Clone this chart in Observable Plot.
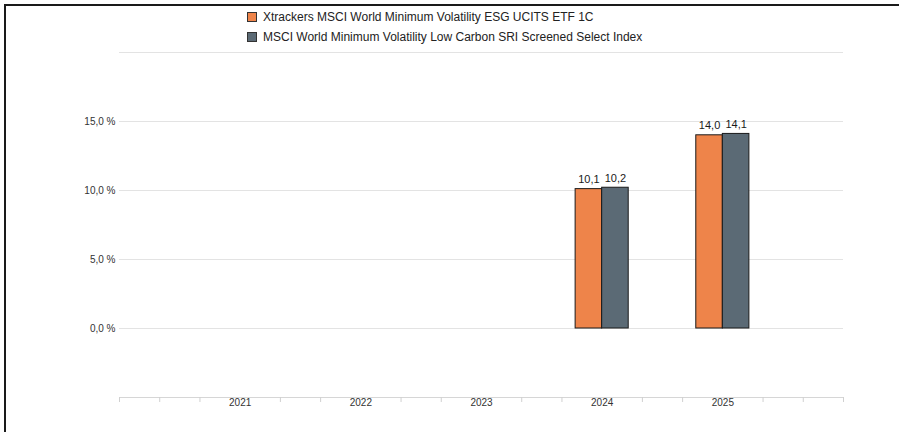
<!DOCTYPE html>
<html><head><meta charset="utf-8">
<script src="https://cdn.jsdelivr.net/npm/d3@7"></script>
<script src="https://cdn.jsdelivr.net/npm/@observablehq/plot@0.6"></script>
<style>
body{margin:0;background:#fff;font-family:"Liberation Sans",Arial,sans-serif;}
#wrap{position:relative;width:899px;height:432px;overflow:hidden;}
#frame{position:absolute;left:4px;top:4px;right:-10px;bottom:-10px;border-top:2px solid #1a1a1a;border-left:2px solid #1a1a1a;pointer-events:none;}
#legend{position:absolute;left:247px;top:7px;font-size:12px;color:#222;}
.item{display:flex;align-items:center;height:20px;}
.sw{width:8px;height:8px;border:1px solid #333;margin-right:6px;}
</style></head>
<body><div id="wrap"><div id="chart"></div><div id="legend"></div><div id="frame"></div></div>
<script>
const years = [2021, 2022, 2023, 2024, 2025];
const fundValues = [null, null, null, 10.1, 14.0];
const indexValues = [null, null, null, 10.2, 14.1];
const seriesNames = ["Xtrackers MSCI World Minimum Volatility ESG UCITS ETF 1C", "MSCI World Minimum Volatility Low Carbon SRI Screened Select Index"];
const seriesColors = ["#ee844a", "#5b6a75"];
const yTickValues = [0, 5, 10, 15];
const yGridValues = [0, 5, 10, 15, 20];

const barW = 0.22;
const rows = [];
[fundValues, indexValues].forEach((vals, s) => {
  vals.forEach((v, i) => {
    if (v == null) return;
    const yr = years[i];
    rows.push({series: seriesNames[s], value: v,
      x1: s === 0 ? yr - barW : yr, x2: s === 0 ? yr : yr + barW, color: seriesColors[s]});
  });
});
const minorTicks = d3.range(0, 19).map(i => 2020 + i / 3).filter(t => !years.some(y => Math.abs(y - t) < 1e-6));
const fmt = d => d.toFixed(1).replace(".", ",");

const chart = Plot.plot({
  width: 899, height: 432,
  marginLeft: 119, marginRight: 56, marginTop: 52, marginBottom: 35,
  style: {fontFamily: "'Liberation Sans', Arial, sans-serif", background: "transparent"},
  x: {domain: [2020, 2026]},
  y: {domain: [-5, 20]},
  marks: [
    Plot.gridY(yGridValues, {stroke: "#e3e3e3", strokeOpacity: 1, strokeWidth: 1.2}),
    Plot.ruleY([-5], {stroke: "#d6d6d6", strokeWidth: 1.2}),
    Plot.axisX(minorTicks, {tickSize: 5, stroke: "#d0d0d0", tickFormat: () => "", label: null}),
    Plot.axisX(years, {tickSize: 0, tickPadding: 1, tickFormat: d => String(d), fontSize: 10, fill: "#333", label: null}),
    Plot.axisY(yTickValues, {tickSize: 0, tickPadding: 4, tickFormat: d => fmt(d) + " %", fontSize: 10, fill: "#333", label: null}),
    Plot.rectY(rows, {x1: "x1", x2: "x2", y1: 0, y2: "value", fill: "color", stroke: "#1a1a1a", strokeWidth: 1}),
    Plot.text(rows, {x: d => (d.x1 + d.x2) / 2, y: "value", text: d => fmt(d.value), lineAnchor: "bottom", dy: -6, fontSize: 11, fill: "#1a1a1a"})
  ]
});
document.getElementById("chart").appendChild(chart);

const legend = document.getElementById("legend");
seriesNames.forEach((n, i) => {
  const it = document.createElement("div"); it.className = "item";
  const sw = document.createElement("span"); sw.className = "sw"; sw.style.background = seriesColors[i];
  const t = document.createElement("span"); t.textContent = n;
  it.appendChild(sw); it.appendChild(t); legend.appendChild(it);
});
</script>
</body></html>
